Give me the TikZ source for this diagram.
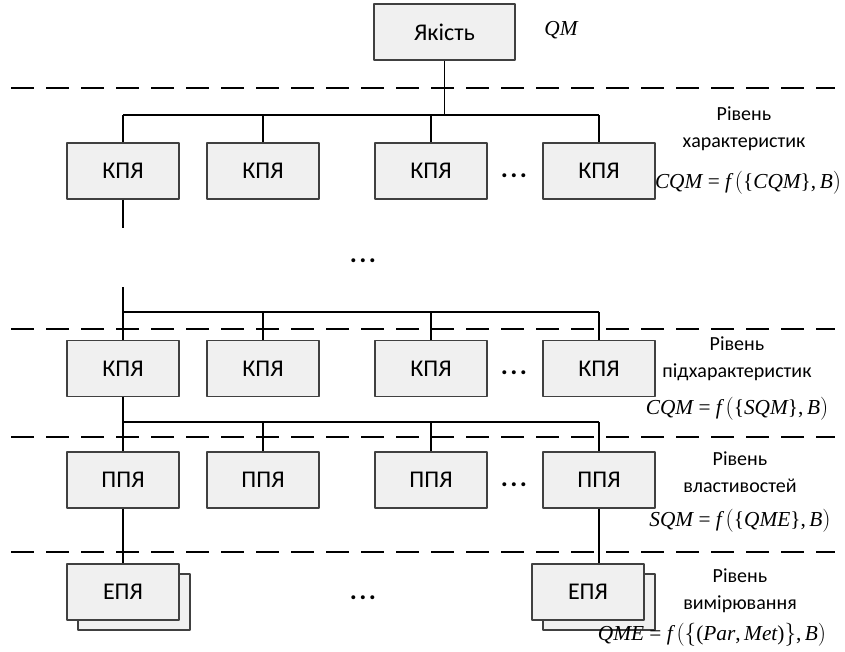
\documentclass[tikz,border=0pt]{standalone}
\usepackage{fontspec}
\setmainfont{Carlito}
\newfontfamily\tnr{Liberation Serif}
\usetikzlibrary{shadows}
\definecolor{boxfill}{HTML}{F0F0F0}
\definecolor{boxline}{HTML}{404040}
\newcommand{\mi}[1]{{\itshape #1}}
\newcommand{\tridots}{{\fontsize{20}{20}\selectfont\bfseries .\kern1.8pt.\kern1.8pt.}}
\begin{document}
\begin{tikzpicture}[x=0.75pt, y=-0.75pt, line width=1.1pt, line join=round,
	font=\fontsize{15}{20}\selectfont,
	blok/.style={draw=boxline, fill=boxfill, line width=0.9pt, minimum width=84pt, minimum height=42pt, inner sep=0pt, font=\fontsize{18}{20}\selectfont},
	blokstack/.style={blok, copy shadow={shadow xshift=8.25pt, shadow yshift=-7.5pt, fill=boxfill, draw=boxline, line width=0.9pt}},
	rivn/.style={align=center},
	formula/.style={font=\fontsize{16}{18}\selectfont\tnr},
	level/.style={dash pattern=on 17.25pt off 9pt}]
	\useasboundingbox (0,0) rectangle (845,651);
	% levels
	\foreach \y in {88,329,437,552} \draw[level] (11,\y)--(835,\y);
	% top
	\node[blok, minimum width=105.75pt] (q) at (444.5,32) {Якість};
	\node[formula] (qm) at (561,30) {\mi{QM}};
	% boxes
	\foreach \n/\x in {1/123,2/263,3/431,4/599}{
		\node[blok] (c\n) at (\x,171) {КПЯ};
		\node[blok] (s\n) at (\x,368.5) {КПЯ};
		\node[blok] (p\n) at (\x,480) {ППЯ};
	}
	\node[blokstack] (e1) at (123,592) {ЕПЯ};
	\node[blokstack] (e4) at (588,592) {ЕПЯ};
	% dots
	\node (d1) at (514,176) {\tridots};
	\node (d2) at (363,261) {\tridots};
	\node (d3) at (514,373) {\tridots};
	\node (d4) at (514,485) {\tridots};
	\node (d5) at (363,598) {\tridots};
	% buses
	\coordinate (b1) at (444.5,115);
	\coordinate (b2) at (123,312);
	\coordinate (b3) at (123,422);
	\coordinate (t1) at (123,228);
	\coordinate (t2) at (123,287);
	\draw (q.south)--(b1);
	\draw (c1.north |- b1)--(c4.north |- b1);
	\draw (c1.south)--(t1);
	\draw (t2)--(s1.north);
	\draw (s1.north |- b2)--(s4.north |- b2);
	\draw (s1.south)--(b3);
	\draw (p1.north |- b3)--(p4.north |- b3);
	\foreach \n in {1,...,4}{
		\draw (c\n.north |- b1)--(c\n.north);
		\draw (s\n.north |- b2)--(s\n.north);
		\draw (p\n.north |- b3)--(p\n.north);
	}
	\draw (p1.south)--(e1.north);
	\draw (p4.south)--(e4.north -| p4.south);
	% level labels
	\node[rivn] (r1) at (744,128.5) {Рівень\\характеристик};
	\node[formula] (f1) at (748,183) {$\mbox{\mi{CQM} = \mi{f}}\,\bigl(\mbox{\{\mi{CQM}\},\,\mi{B}}\bigr)$};
	\node[rivn] (r2) at (737,358.5) {Рівень\\підхарактеристик};
	\node[formula] (f2) at (737,409) {$\mbox{\mi{CQM} = \mi{f}}\,\bigl(\mbox{\{\mi{SQM}\},\,\mi{B}}\bigr)$};
	\node[rivn] (r3) at (740,472) {Рівень\\властивостей};
	\node[formula] (f3) at (740,521) {$\mbox{\mi{SQM} = \mi{f}}\,\bigl(\mbox{\{\mi{QME}\},\,\mi{B}}\bigr)$};
	\node[rivn] (r4) at (740,591) {Рівень\\вимірювання};
	\node[formula] (f4) at (712,635) {$\mbox{\mi{QME} = \mi{f}}\,\Bigl(\bigl\{\mbox{(\mi{Par},\,\mi{Met})}\bigr\}\mbox{,\,\mi{B}}\Bigr)$};
\end{tikzpicture}
\end{document}
